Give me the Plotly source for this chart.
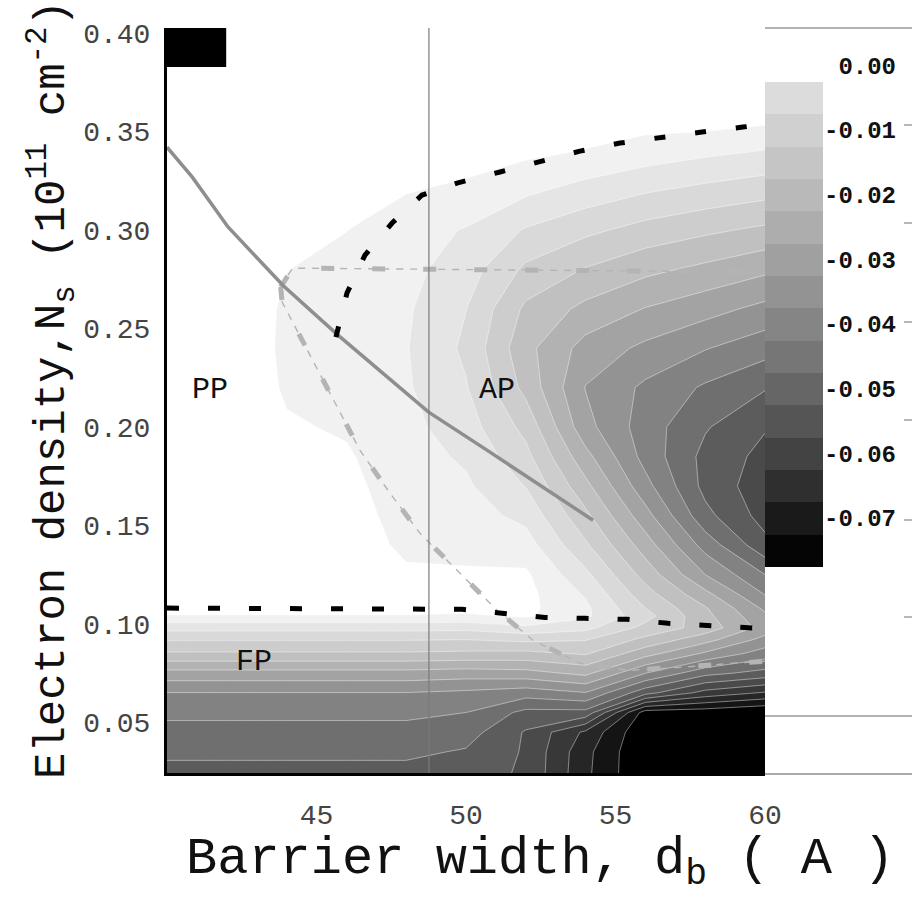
import plotly.graph_objects as go

W, H = 912, 897
FONT = "Courier New, Liberation Mono, monospace"

# ---------------- data ----------------
X_GRID = [40, 42, 44, 46, 48, 50, 52, 54, 56, 58, 60]
Y_GRID = [0.02, 0.035, 0.045, 0.055, 0.065, 0.075, 0.085, 0.092, 0.098, 0.104, 0.108,
          0.115, 0.125, 0.14, 0.155, 0.17, 0.185, 0.20, 0.22, 0.24, 0.26, 0.28, 0.30,
          0.32, 0.34, 0.36, 0.38, 0.405]
Z_ROWS = [
    [-0.0525, -0.0525, -0.0525, -0.0525, -0.0525, -0.0530, -0.0558, -0.0690, -0.0800, -0.0840, -0.0850],
    [-0.0490, -0.0490, -0.0490, -0.0490, -0.0490, -0.0505, -0.0556, -0.0685, -0.0800, -0.0830, -0.0840],
    [-0.0466, -0.0466, -0.0466, -0.0466, -0.0466, -0.0478, -0.0555, -0.0660, -0.0795, -0.0820, -0.0830],
    [-0.0439, -0.0439, -0.0439, -0.0439, -0.0439, -0.0450, -0.0514, -0.0516, -0.0775, -0.0780, -0.0800],
    [-0.0401, -0.0401, -0.0401, -0.0401, -0.0401, -0.0410, -0.0427, -0.0402, -0.0532, -0.0618, -0.0655],
    [-0.0318, -0.0318, -0.0318, -0.0318, -0.0318, -0.0325, -0.0318, -0.0287, -0.0399, -0.0484, -0.0518],
    [-0.0206, -0.0206, -0.0206, -0.0206, -0.0206, -0.0210, -0.0213, -0.0194, -0.0280, -0.0357, -0.0423],
    [-0.0147, -0.0147, -0.0147, -0.0147, -0.0147, -0.0150, -0.0138, -0.0147, -0.0213, -0.0281, -0.0367],
    [-0.0083, -0.0083, -0.0083, -0.0083, -0.0083, -0.0085, -0.0063, -0.0085, -0.0165, -0.0220, -0.0320],
    [-0.0005, -0.0005, -0.0005, -0.0005, -0.0005, -0.0010, 0.0008, -0.0040, -0.0132, -0.0235, -0.0340],
    [0.0030, 0.0030, 0.0030, 0.0030, 0.0030, 0.0020, 0.0013, -0.0040, -0.0150, -0.0245, -0.0360],
    [0.0040, 0.0040, 0.0030, 0.0028, 0.0015, 0.0015, 0.0015, -0.0055, -0.0179, -0.0285, -0.0402],
    [0.0040, 0.0040, 0.0030, 0.0025, 0.0006, 0.0005, 0.0008, -0.0088, -0.0219, -0.0350, -0.0450],
    [0.0040, 0.0040, 0.0028, 0.0022, -0.0008, -0.0012, -0.0028, -0.0142, -0.0275, -0.0420, -0.0535],
    [0.0040, 0.0040, 0.0025, 0.0018, -0.0016, -0.0028, -0.0064, -0.0188, -0.0331, -0.0485, -0.0570],
    [0.0040, 0.0040, 0.0020, 0.0012, -0.0022, -0.0042, -0.0102, -0.0236, -0.0383, -0.0515, -0.0580],
    [0.0040, 0.0040, 0.0012, 0.0005, -0.0028, -0.0058, -0.0135, -0.0284, -0.0418, -0.0515, -0.0565],
    [0.0040, 0.0040, 0.0005, -0.0005, -0.0035, -0.0077, -0.0165, -0.0333, -0.0425, -0.0495, -0.0546],
    [0.0040, 0.0040, -0.0006, -0.0015, -0.0044, -0.0096, -0.0215, -0.0352, -0.0410, -0.0457, -0.0496],
    [0.0040, 0.0040, -0.0010, -0.0020, -0.0047, -0.0110, -0.0235, -0.0319, -0.0361, -0.0397, -0.0430],
    [0.0040, 0.0040, -0.0008, -0.0020, -0.0043, -0.0099, -0.0210, -0.0263, -0.0302, -0.0331, -0.0364],
    [0.0040, 0.0040, 0.0001, -0.0015, -0.0035, -0.0076, -0.0160, -0.0203, -0.0237, -0.0262, -0.0289],
    [0.0040, 0.0040, 0.0012, 0.0001, -0.0030, -0.0053, -0.0104, -0.0138, -0.0168, -0.0190, -0.0210],
    [0.0040, 0.0040, 0.0020, 0.0008, 0.0003, -0.0011, -0.0040, -0.0069, -0.0095, -0.0114, -0.0131],
    [0.0040, 0.0040, 0.0030, 0.0015, 0.0010, 0.0025, 0.0012, -0.0002, -0.0021, -0.0038, -0.0052],
    [0.0040, 0.0040, 0.0040, 0.0020, 0.0020, 0.0030, 0.0030, 0.0030, 0.0030, 0.0038, 0.0028],
    [0.0040, 0.0040, 0.0040, 0.0030, 0.0030, 0.0035, 0.0035, 0.0035, 0.0035, 0.0040, 0.0040],
    [0.0040, 0.0040, 0.0040, 0.0040, 0.0040, 0.0040, 0.0040, 0.0040, 0.0040, 0.0040, 0.0040],
]

# contour levels (z) and band colours, darkest (below lowest level) -> white (above 0)
LEVEL_START, LEVEL_END, LEVEL_STEP = -0.075, 0.0, 0.005
BAND_COLORS = ["#000000", "#141414", "#262626", "#383838", "#4a4a4a", "#5c5c5c",
               "#6f6f6f", "#828282", "#939393", "#a3a3a3", "#b2b2b2", "#c0c0c0",
               "#cdcdcd", "#d9d9d9", "#e5e5e5", "#f1f1f1", "#ffffff"]

# colour bar
CB_MID = [-0.0025, -0.0075, -0.0125, -0.0175, -0.0225, -0.0275, -0.0325, -0.0375,
          -0.0425, -0.0475, -0.0525, -0.0575, -0.0625, -0.0675, -0.0725]
CB_COLORS = ["#dcdcdc", "#d0d0d0", "#c5c5c5", "#b9b9b9", "#adadad", "#a0a0a0",
             "#939393", "#858585", "#767676", "#666666", "#555555", "#434343",
             "#2f2f2f", "#1a1a1a", "#050505"]
CB_TICKS = [0.0, -0.01, -0.02, -0.03, -0.04, -0.05, -0.06, -0.07]
CB_LABELS = ["\u00a00.00", "-0.01", "-0.02", "-0.03", "-0.04", "-0.05", "-0.06", "-0.07"]

# boundary curves
SOLID_X = [40.0, 40.84, 42.04, 43.9, 45.69, 48.75, 50.70, 52.71, 54.25]
SOLID_Y = [0.342, 0.3269, 0.3015, 0.2715, 0.247, 0.2075, 0.1882, 0.1679, 0.1526]

UPPER_DASH_X = [45.65, 46.02, 46.62, 47.53, 48.53, 49.70, 51.14, 52.47, 53.81, 55.15, 56.56, 57.89, 59.26, 60.0]
UPPER_DASH_Y = [0.2456, 0.268, 0.2872, 0.3035, 0.3177, 0.3238, 0.3294, 0.335, 0.340, 0.3441, 0.3472, 0.3497, 0.3522, 0.3535]

LOWER_DASH_X = [40.0, 48.8, 49.87, 51.2, 52.64, 53.98, 55.38, 56.76, 58.26, 59.76, 60.0]
LOWER_DASH_Y = [0.108, 0.108, 0.1074, 0.1054, 0.1033, 0.1028, 0.1023, 0.1003, 0.0993, 0.0978, 0.0975]

GRAY_H_X = [43.8, 44.2, 60.0]
GRAY_H_Y = [0.271, 0.2806, 0.2786]

GRAY_D_X = [43.8, 43.85, 46.45, 47.46, 48.46, 49.70, 51.04, 52.24, 53.8, 55.48, 57.16, 58.93, 60.0]
GRAY_D_Y = [0.271, 0.2634, 0.1882, 0.1663, 0.146, 0.1272, 0.1069, 0.0917, 0.080, 0.0764, 0.0779, 0.080, 0.081]

X_TICKS = [45, 50, 55, 60]
Y_TICKS = [0.05, 0.10, 0.15, 0.20, 0.25, 0.30, 0.35, 0.40]
DIVIDER_X = 48.76
REGION_LABELS = [("PP", 41.45, 0.2187), ("AP", 51.05, 0.2187), ("FP", 42.9, 0.0805)]

# ---------------- figure ----------------
def px_x(p):
    return p / W


def px_y(p):
    return 1 - p / H


n_band = len(BAND_COLORS) - 1
contour_scale = [[i / n_band, c] for i, c in enumerate(BAND_COLORS)]

fig = go.Figure()
fig.add_trace(go.Contour(
    x=X_GRID, y=Y_GRID, z=Z_ROWS,
    autocontour=False,
    contours=dict(start=LEVEL_START, end=LEVEL_END, size=LEVEL_STEP, coloring="fill"),
    colorscale=contour_scale, showscale=False,
    line=dict(color="rgba(255,255,255,0.55)", width=0.8, smoothing=0),
    hoverinfo="skip", xaxis="x", yaxis="y",
))

# colour bar built as its own heatmap
ncb = len(CB_COLORS)
cb_scale = []
for j, col in enumerate(reversed(CB_COLORS)):
    cb_scale.append([j / ncb, col])
    cb_scale.append([(j + 1) / ncb, col])
fig.add_trace(go.Heatmap(
    x=[0], y=CB_MID, z=[[m] for m in CB_MID],
    zmin=-0.075, zmax=0.0, colorscale=cb_scale, showscale=False,
    hoverinfo="skip", xaxis="x2", yaxis="y2",
))

gray_dash = "#b4b4b4"
for xs, ys in [(GRAY_H_X, GRAY_H_Y), (GRAY_D_X, GRAY_D_Y)]:
    fig.add_trace(go.Scatter(x=xs, y=ys, mode="lines",
                             line=dict(color=gray_dash, width=1.4, dash="7px,7px"),
                             hoverinfo="skip"))
    fig.add_trace(go.Scatter(x=xs, y=ys, mode="lines",
                             line=dict(color=gray_dash, width=5, dash="13px,38px"),
                             hoverinfo="skip"))

fig.add_trace(go.Scatter(x=SOLID_X, y=SOLID_Y, mode="lines",
                         line=dict(color="#8e8e8e", width=3.5), hoverinfo="skip"))
fig.add_trace(go.Scatter(x=UPPER_DASH_X, y=UPPER_DASH_Y, mode="lines",
                         line=dict(color="black", width=5, dash="11px,30px"), hoverinfo="skip"))
fig.add_trace(go.Scatter(x=LOWER_DASH_X, y=LOWER_DASH_Y, mode="lines",
                         line=dict(color="black", width=5, dash="12px,29px"), hoverinfo="skip"))

main_dom_x = [px_x(167), px_x(765)]
main_dom_y = [px_y(773), px_y(28)]

shapes = [
    dict(type="line", xref="x", yref="paper", x0=DIVIDER_X, x1=DIVIDER_X,
         y0=main_dom_y[0], y1=main_dom_y[1], line=dict(color="#7a7a7a", width=1.2)),
    dict(type="rect", xref="x", yref="y", x0=40, x1=41.98, y0=0.3827, y1=0.4025,
         fillcolor="black", line=dict(width=0)),
    dict(type="line", xref="paper", yref="paper", x0=px_x(765), x1=1, y0=px_y(28), y1=px_y(28),
         line=dict(color="#999999", width=1.5)),
    dict(type="line", xref="paper", yref="paper", x0=px_x(765), x1=1, y0=px_y(716), y1=px_y(716),
         line=dict(color="#999999", width=1.5)),
    dict(type="line", xref="paper", yref="paper", x0=px_x(765), x1=1, y0=px_y(774), y1=px_y(774),
         line=dict(color="#aaaaaa", width=2)),
]
for ty in [125, 223, 322, 420, 520, 617]:
    shapes.append(dict(type="line", xref="paper", yref="paper", x0=px_x(904), x1=1,
                       y0=px_y(ty), y1=px_y(ty), line=dict(color="#888888", width=1.2)))

annotations = []
for txt, ax, ay in REGION_LABELS:
    annotations.append(dict(x=ax, y=ay, xref="x", yref="y", text=txt, showarrow=False,
                            font=dict(family=FONT, size=30, color="#111111")))
annotations.append(dict(x=px_x(540), y=px_y(862), xref="paper", yref="paper",
                        text="Barrier width, d<sub>b</sub> ( A )", showarrow=False,
                        font=dict(family=FONT, size=52, color="#111111"),
                        xanchor="center", yanchor="middle"))
annotations.append(dict(x=px_x(52), y=px_y(390), xref="paper", yref="paper",
                        text="Electron density,N<sub>s</sub> (10<sup>11</sup> cm<sup>-2</sup>)",
                        showarrow=False, textangle=-90,
                        font=dict(family=FONT, size=44, color="#111111"),
                        xanchor="center", yanchor="middle"))

fig.update_layout(
    width=W, height=H, margin=dict(l=0, r=0, t=0, b=0, autoexpand=False),
    paper_bgcolor="white", plot_bgcolor="white", showlegend=False,
    xaxis=dict(domain=main_dom_x, range=[40, 60], tickvals=X_TICKS,
               ticktext=[str(v) for v in X_TICKS], showgrid=False, zeroline=False,
               showline=True, linecolor="black", linewidth=3, ticks="",
               ticklabelstandoff=14, automargin=False,
               tickfont=dict(family=FONT, size=28, color="#444444"), anchor="y"),
    yaxis=dict(domain=main_dom_y, range=[0.0243, 0.4025], tickvals=Y_TICKS,
               ticktext=["%.2f" % v for v in Y_TICKS], showgrid=False, zeroline=False,
               showline=True, linecolor="black", linewidth=3, ticks="",
               ticklabelstandoff=8, automargin=False,
               tickfont=dict(family=FONT, size=28, color="#444444"), anchor="x"),
    xaxis2=dict(domain=[px_x(765), px_x(823)], range=[-0.5, 0.5], visible=False,
                anchor="y2", automargin=False),
    yaxis2=dict(domain=[px_y(567), px_y(82)], range=[-0.075, 0.0], anchor="x2", side="right",
                tickvals=CB_TICKS, ticktext=CB_LABELS, showgrid=False, zeroline=False,
                showline=False, ticks="", ticklabelposition="outside top", automargin=False,
                tickfont=dict(family=FONT, size=24, color="#111111", weight="bold")),
    shapes=shapes, annotations=annotations,
)

fig.write_html("out.html", config={"displayModeBar": False},
               post_script="document.body.style.margin='0';document.body.style.padding='0';")
